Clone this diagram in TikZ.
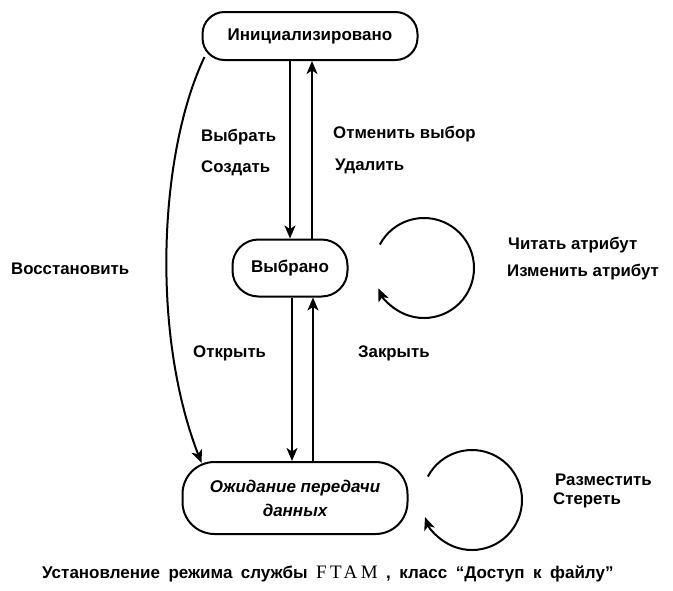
\documentclass[tikz,border=0pt]{standalone}
\usepackage{fontspec}
\setmainfont{Liberation Sans}
\newfontfamily\ftamfont[LetterSpace=18]{Liberation Serif}
\usetikzlibrary{arrows.meta,calc}
\tikzset{
  state/.style={draw, line width=2pt, inner sep=0pt, align=center,
    font=\bfseries\fontsize{17}{22}\selectfont},
  lbl/.style={anchor=west, inner sep=0pt, font=\bfseries\fontsize{16.8}{20}\selectfont},
  arr/.style={line width=2pt, -{Stealth[length=13pt,width=11pt,inset=3.5pt]}},
}
\begin{document}
\begin{tikzpicture}[x=1pt,y=-1pt]
\useasboundingbox (0,0) rectangle (673,590);
% states
\node[state, minimum width=215pt, minimum height=48pt, rounded corners=22pt] (init) at (310,36) {Инициализировано};
\node[state, minimum width=115pt, minimum height=57pt, rounded corners=26pt] (sel) at (290,268) {Выбрано};
\node[state, minimum width=225pt, minimum height=72pt, rounded corners=32pt, font=\bfseries\itshape\fontsize{17}{24}\selectfont] (wait) at (295,498) {Ожидание передачи\\данных};
% vertical transitions
\draw[arr] (init.south -| sel.center) -- (sel.north);
\draw[arr] ([xshift=22pt]sel.north) -- ([xshift=22pt]sel.north |- init.south);
\draw[arr] ([xshift=2pt]sel.south) -- ([xshift=2pt]sel.south |- wait.north);
\draw[arr] ([xshift=23pt]sel.south |- wait.north) -- ([xshift=23pt]sel.south);
% restore curve
\coordinate (rs) at ([xshift=3pt,yshift=4pt]init.south west);
\coordinate (re) at ([xshift=20pt,yshift=-2pt]wait.north west);
\draw[arr] (rs) .. controls (160,150) and (150,330) .. (re);
% self loops
\coordinate (c1) at (424,268);
\draw[arr] ($(c1)+(152:50pt)$) arc[start angle=152, end angle=-156, radius=50pt];
\coordinate (c2) at (472,500);
\draw[arr] ($(c2)+(152:50pt)$) arc[start angle=152, end angle=-160, radius=50pt];
% labels
\node[lbl] (l1) at (201,137) {Выбрать};
\node[lbl] (l2) at (201,168) {Создать};
\node[lbl] (l3) at (333,134) {Отменить выбор};
\node[lbl] (l4) at (335,166) {Удалить};
\node[lbl] (l5) at (11,269) {Восстановить};
\node[lbl] (l6) at (508,245) {Читать атрибут};
\node[lbl] (l7) at (507,272) {Изменить атрибут};
\node[lbl] (l8) at (193,353) {Открыть};
\node[lbl] (l9) at (358,353) {Закрыть};
\node[lbl] (l10) at (555,480) {Разместить};
\node[lbl] (l11) at (553,500) {Стереть};
\node[lbl, font=\bfseries\fontsize{17}{20}\selectfont] (cap) at (42,574) {\spaceskip=8.5pt Установление режима службы {\ftamfont\mdseries\fontsize{19}{20}\selectfont FTAM} , класс “Доступ к файлу”};
\end{tikzpicture}
\end{document}
